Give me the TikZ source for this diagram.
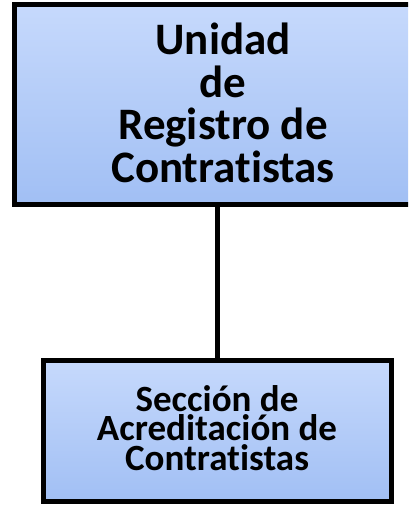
\documentclass[tikz,border=0pt]{standalone}
\usepackage{fontspec}
\setmainfont{Carlito}[Ligatures=NoCommon]
\usepackage{tikz}
\definecolor{boxtop}{HTML}{C6D9FC}
\definecolor{boxbottom}{HTML}{A1BFF4}

\begin{document}
\begin{tikzpicture}[x=1pt, y=1pt,
		level distance=326.5pt,
		every node/.style = {shape=rectangle, draw, line width=5pt, align=center, top color=boxtop, bottom color=boxbottom, inner sep=0pt},
		edge from parent/.style = {draw, line width=5pt},
		edge from parent path = {(\tikzchildnode.north) -- (\tikzchildnode.north |- \tikzparentnode.south)},
		unitbox/.style = {minimum width=417pt, minimum height=200pt, text depth=4pt, font=\bfseries\fontsize{45}{42.5}\selectfont},
		seccionbox/.style = {minimum width=348pt, minimum height=141.5pt, text depth=6pt, font=\bfseries\fontsize{37}{29.5}\selectfont}]
		\path[use as bounding box, clip] (0,0) rectangle (408,-506);
		\node[unitbox] (unidad) at (223,-104.5) {Unidad\\de\\Registro de\\Contratistas}
			child[xshift=-6pt] { node[seccionbox] (seccion) {Sección de\\Acreditación de\\Contratistas} };
	\end{tikzpicture}
\end{document}
